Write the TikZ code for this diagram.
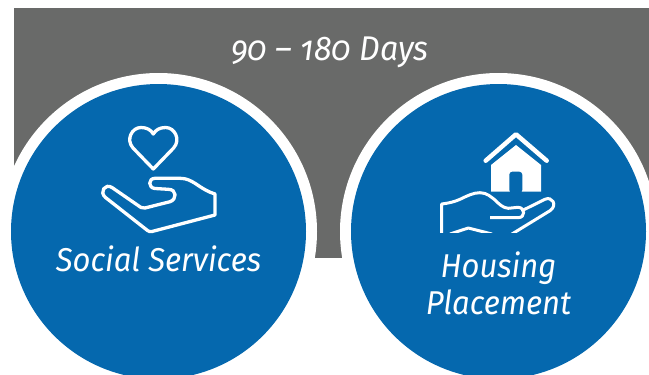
\documentclass[tikz,border=0pt]{standalone}
\usepackage{fontspec}
\setmainfont[Numbers=OldStyle, FakeStretch=0.94]{Fira Sans}
\definecolor{bandgray}{HTML}{696A69}
\definecolor{discblue}{HTML}{0568AE}
\tikzset{
	iconline/.style={draw=white, line width=3.3pt, line join=round},
	caption/.style={text=white, font=\fontsize{33}{37}\selectfont\itshape, align=center},
}

\begin{document}
\begin{tikzpicture}[x=1pt, y=-1pt]
		%%%%% START %%%%%
		\useasboundingbox (0, 0) rectangle (649, 375);
		\clip (0, 0) rectangle (649, 375);
		
		\fill[bandgray] (14, 8) rectangle (649, 258);
		
		\fill[white] (158.5, 231.5) circle (158.5);
		\fill[white] (498.5, 231.5) circle (158.5);
		\fill[discblue] (158.5, 231.5) circle (147.5);
		\fill[discblue] (498.5, 231.5) circle (147.5);
		
		\node[caption, anchor=base, font=\fontsize{34.3}{37}\selectfont\itshape] (days) at (330, 60) {90 -- 180 Days};
		\node[caption, anchor=base] (social) at (158.5, 271) {Social Services};
		\node[caption] (housing) at (498.5, 283) {Housing\\Placement};
		
		% heart
		\draw[iconline] (153.3, 169) -- (133, 148) .. controls (125.5, 139.5) and (132, 127.5) .. (141, 127.5)
			.. controls (147, 127.5) and (151, 130) .. (153.3, 134) .. controls (155.6, 130) and (159.6, 127.5) .. (165.6, 127.5)
			.. controls (174.6, 127.5) and (181.1, 139.5) .. (173.6, 148) -- cycle;
		
		% open hand
		\draw[iconline] (155, 178.3) -- (180, 178.3) .. controls (187, 178.3) and (191, 181) .. (195, 183.3)
			.. controls (202, 188) and (208, 192) .. (215, 194) -- (215, 215) -- (152, 231.5)
			.. controls (150, 232) and (149, 231.5) .. (147.5, 230.5) -- (105.5, 197.5)
			.. controls (99, 192) and (105, 183) .. (112, 187.5) -- (141, 207.5)
			.. controls (142.5, 208.5) and (143.5, 208.5) .. (145, 208) -- (170, 201.7)
			.. controls (177, 199.5) and (177, 189.3) .. (168.3, 189.3) -- (155, 188.5)
			.. controls (148, 188) and (148, 178.3) .. (155, 178.3) -- cycle;
		
		% roof and house
		\draw[draw=white, line width=4.5pt, line cap=round, line join=round] (485.7, 160.7) -- (516, 134.3) -- (546.7, 160.7);
		\fill[white] (491, 191.7) -- (491, 165) -- (516, 145) -- (541, 165) -- (541, 191.7) -- cycle;
		\fill[discblue, rounded corners=3pt] (509.3, 193) -- (509.3, 171.7) -- (522.3, 171.7) -- (522.3, 193) -- cycle;
		
		% hand under the house
		\begin{scope}
			\clip (430, 190) rectangle (565, 232);
			\draw[iconline, line width=3pt] (441.7, 240) -- (441.7, 204) .. controls (450, 203) and (455, 201.5) .. (460, 199.3)
				.. controls (467, 196) and (473, 192.7) .. (480, 192.7) .. controls (487, 192.7) and (491, 197) .. (495, 200)
				.. controls (499, 204) and (503, 208) .. (508.3, 208.3) -- (518, 207.3)
				.. controls (525, 207.3) and (526, 217.7) .. (518, 217.7) -- (490, 217.7);
			\draw[iconline, line width=3pt] (523.3, 210) -- (545, 199.3) .. controls (552, 196) and (558, 205) .. (550, 210.7) -- (512, 234);
			\draw[iconline, line width=3pt] (450, 234) -- (468.3, 228) -- (492, 234);
		\end{scope}
		%%%%% END %%%%%
	\end{tikzpicture}
\end{document}
